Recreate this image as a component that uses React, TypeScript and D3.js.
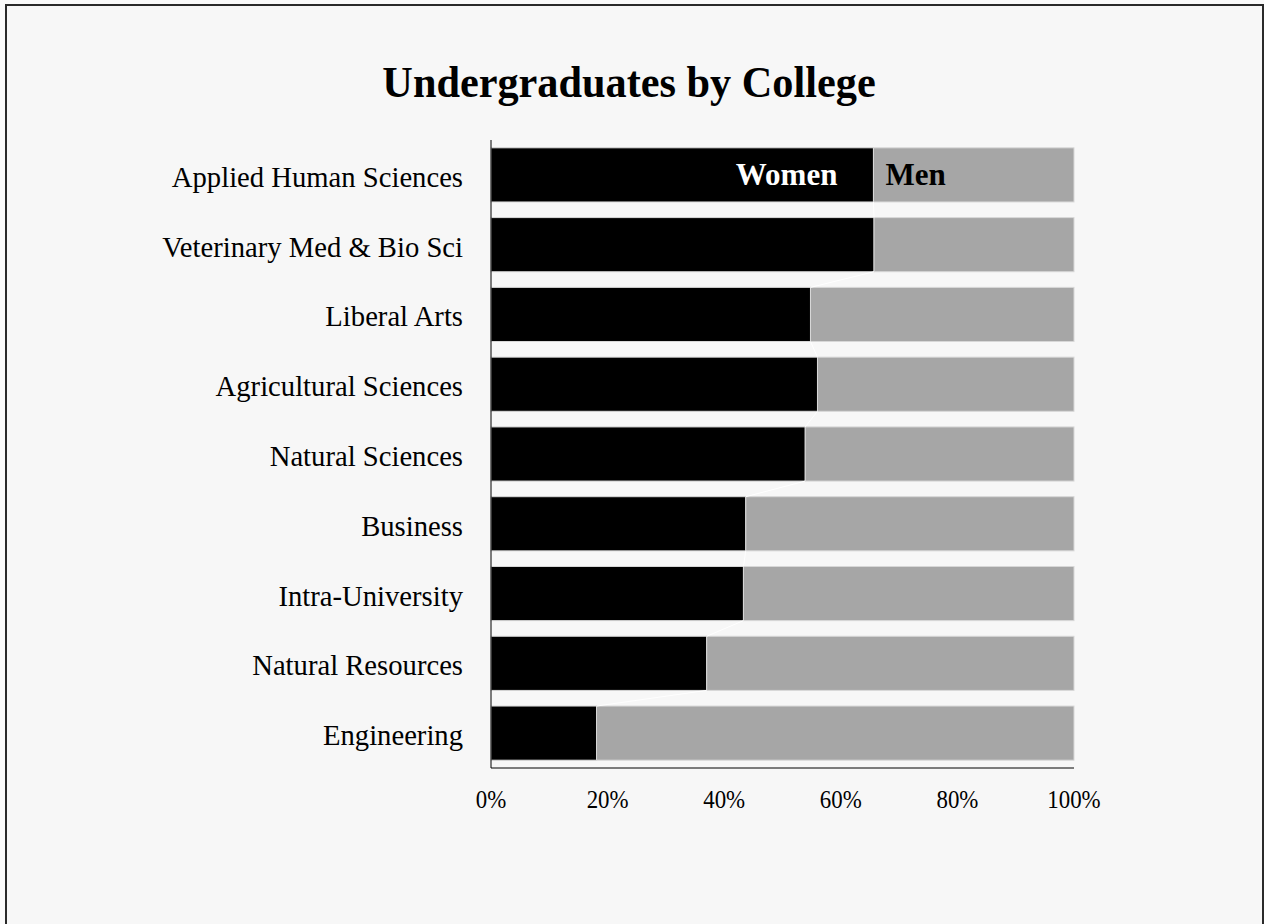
import React from "react";
import * as d3 from "d3";

const categories = [
  "Applied Human Sciences",
  "Veterinary Med & Bio Sci",
  "Liberal Arts",
  "Agricultural Sciences",
  "Natural Sciences",
  "Business",
  "Intra-University",
  "Natural Resources",
  "Engineering",
];
const womenPct = [65.6, 65.7, 54.8, 56.0, 53.9, 43.7, 43.3, 37.0, 18.1];
const menPct = [34.4, 34.3, 45.2, 44.0, 46.1, 56.3, 56.7, 63.0, 81.9];
const seriesNames = ["Women", "Men"];
const seriesColors = ["#000000", "#a6a6a6"];
const tickValues = [0, 20, 40, 60, 80, 100];
const tickLabels = ["0%", "20%", "40%", "60%", "80%", "100%"];
const title = "Undergraduates by College";

const W = 1264;
const H = 924;
const X0 = 491;
const X1 = 1074;
const Y0 = 140;
const Y1 = 768;
const FONT = "'Liberation Serif', 'Times New Roman', serif";

export default function App() {
  const rows = categories.map((c, i) => ({ cat: c, Women: womenPct[i], Men: menPct[i] }));
  const stacked = d3.stack<any>().keys(seriesNames)(rows);
  const x = d3.scaleLinear().domain([0, 100]).range([X0, X1]);
  const y = d3
    .scaleBand<string>()
    .domain(categories)
    .range([Y0, Y1])
    .paddingInner(0.224)
    .paddingOuter(0.112);
  const bw = y.bandwidth();

  const seriesLines = categories.slice(0, -1).map((c, i) => {
    const next = categories[i + 1];
    return {
      x1: x(stacked[0][i][1]),
      y1: (y(c) as number) + bw,
      x2: x(stacked[0][i + 1][1]),
      y2: y(next) as number,
    };
  });

  const firstCat = categories[0];
  const firstY = (y(firstCat) as number) + bw / 2;
  const womenEnd = x(stacked[0][0][1]);

  return (
    <svg
      width={W}
      height={H}
      style={{ position: "absolute", left: 0, top: 0, display: "block" }}
      fontFamily={FONT}
    >
      <rect x={0} y={0} width={W} height={H} fill="#fafafa" />
      <rect x={6} y={5} width={1257} height={1000} fill="#f7f7f7" stroke="#2a2a2a" strokeWidth={2} />

      <text
        transform={`translate(629,97) scale(0.94,1)`}
        textAnchor="middle"
        fontSize={45}
        fontWeight="bold"
        fill="#000"
      >
        {title}
      </text>

      {stacked.map((s, si) => (
        <g key={s.key} fill={seriesColors[si]}>
          {s.map((d, i) => (
            <rect
              key={categories[i]}
              x={x(d[0])}
              y={y(categories[i])}
              width={x(d[1]) - x(d[0])}
              height={bw}
              stroke="#d8d8d8"
              strokeWidth={1}
            />
          ))}
        </g>
      ))}

      {seriesLines.map((l, i) => (
        <line key={i} x1={l.x1} y1={l.y1} x2={l.x2} y2={l.y2} stroke="#ffffff" strokeWidth={1} />
      ))}

      <text
        transform={`translate(${womenEnd - 36},${firstY + 10}) scale(0.97,1)`}
        textAnchor="end"
        fontSize={32}
        fontWeight="bold"
        fill="#fff"
      >
        {seriesNames[0]}
      </text>
      <text
        transform={`translate(${womenEnd + 12},${firstY + 10}) scale(0.97,1)`}
        textAnchor="start"
        fontSize={32}
        fontWeight="bold"
        fill="#000"
      >
        {seriesNames[1]}
      </text>

      {categories.map((c) => (
        <text
          key={c}
          transform={`translate(463,${(y(c) as number) + bw / 2 + 12}) scale(0.955,1)`}
          textAnchor="end"
          fontSize={30}
          fill="#000"
        >
          {c}
        </text>
      ))}

      <line x1={X0} y1={Y0} x2={X0} y2={Y1} stroke="#000" strokeWidth={1} />
      <line x1={X0} y1={Y1} x2={X1} y2={Y1} stroke="#000" strokeWidth={1} />

      {tickValues.map((v, i) => (
        <text
          key={v}
          transform={`translate(${x(v)},808) scale(0.88,1)`}
          textAnchor="middle"
          fontSize={26}
          fill="#000"
        >
          {tickLabels[i]}
        </text>
      ))}
    </svg>
  );
}
